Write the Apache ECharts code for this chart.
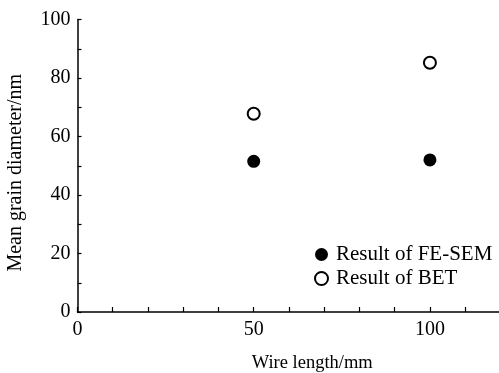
<!DOCTYPE html>
<html>
<head>
<meta charset="utf-8">
<script src="https://cdn.jsdelivr.net/npm/echarts@6/dist/echarts.min.js"></script>
<style>html,body{margin:0;padding:0;background:#fff;}#c{width:499px;height:373px;}</style>
</head>
<body>
<div id="c"></div>
<script>
var wireLength = [50, 100];
var feSem = [51.5, 52];
var bet = [67.8, 85.2];
var xLabels = [0, 50, 100];
var yLabels = [0, 20, 40, 60, 80, 100];
var seriesNames = ['Result of FE-SEM', 'Result of BET'];

var font = 'Liberation Serif';
var chart = echarts.init(document.getElementById('c'), null, {renderer: 'canvas'});
chart.setOption({
  animation: false,
  backgroundColor: '#fff',
  grid: {left: 77.5, right: 0, top: 19.5, bottom: 61, containLabel: false, outerBoundsMode: 'none'},
  legend: {
    orient: 'vertical',
    left: 314, top: 244, padding: 0,
    itemWidth: 13, itemHeight: 13, itemGap: 3,
    textStyle: {fontFamily: font, fontSize: 21, lineHeight: 21, color: '#000', padding: [0,0,0,3]},
    data: [
      {name: seriesNames[0], icon: 'circle'},
      {name: seriesNames[1], icon: 'emptyCircle'}
    ]
  },
  xAxis: {
    type: 'value', min: 0, max: 119.6, interval: 10,
    name: 'Wire length/mm', nameLocation: 'middle', nameGap: 42,
    nameTextStyle: {fontFamily: font, fontSize: 18.5, color: '#000', padding: [0,0,0,48]},
    axisLine: {lineStyle: {color: '#000', width: 1.5}},
    axisTick: {inside: true, length: 5, lineStyle: {color: '#000', width: 1.2}},
    axisLabel: {fontFamily: font, fontSize: 20, color: '#000', margin: 8, showMaxLabel: false,
      formatter: function (v) { return xLabels.indexOf(v) >= 0 ? String(v) : ''; }},
    splitLine: {show: false}
  },
  yAxis: {
    type: 'value', min: 0, max: 100, interval: 10,
    name: 'Mean grain diameter/nm', nameLocation: 'middle', nameGap: 52,
    nameTextStyle: {fontFamily: font, fontSize: 20, color: '#000', padding: [0,14,0,0]},
    axisLine: {show: true, lineStyle: {color: '#000', width: 1.5}},
    axisTick: {inside: true, length: 4, lineStyle: {color: '#000', width: 1.2}},
    axisLabel: {fontFamily: font, fontSize: 20, color: '#000', margin: 7,
      formatter: function (v) { return yLabels.indexOf(v) >= 0 ? String(v) : ''; }},
    splitLine: {show: false}
  },
  series: [
    {
      name: seriesNames[0], type: 'scatter', symbol: 'circle', symbolSize: 13,
      itemStyle: {color: '#000', opacity: 1},
      data: wireLength.map(function (x, i) { return [x, feSem[i]]; })
    },
    {
      name: seriesNames[1], type: 'scatter', symbol: 'emptyCircle', symbolSize: 12,
      itemStyle: {color: '#000', borderColor: '#000', borderWidth: 1.5, opacity: 1},
      data: wireLength.map(function (x, i) { return [x, bet[i]]; })
    }
  ]
});
</script>
</body>
</html>
